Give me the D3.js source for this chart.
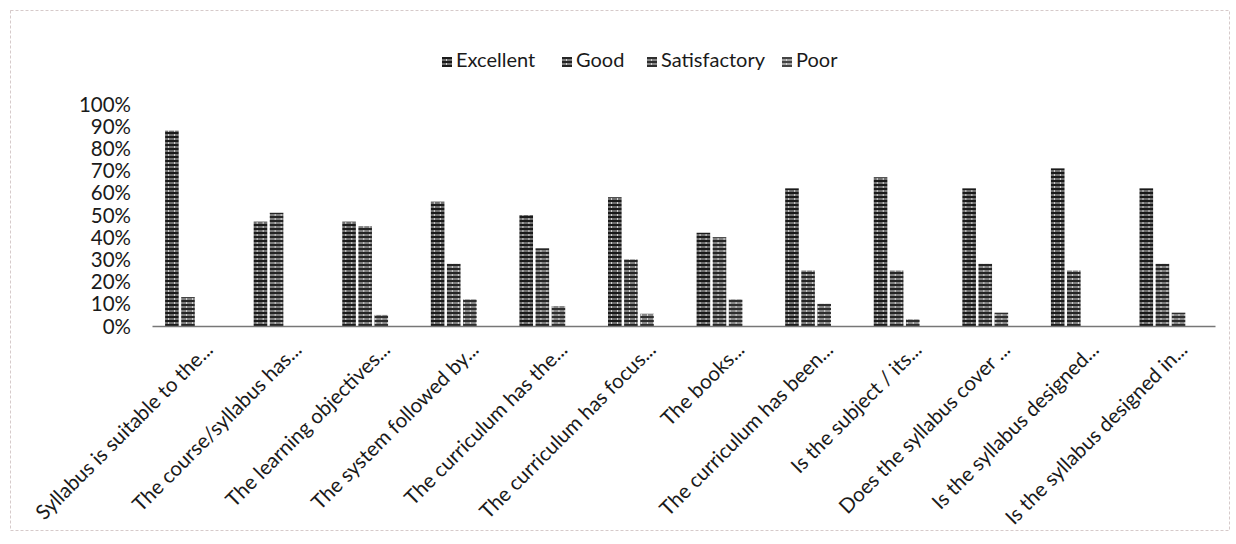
<!DOCTYPE html>
<html>
<head>
<meta charset="utf-8">
<script src="https://cdn.jsdelivr.net/npm/d3@7"></script>
<style>
  html, body { margin: 0; padding: 0; background: #ffffff; }
  svg { display: block; }
  text { font-family: Lato, "Open Sans", sans-serif; fill: #1a1a1a; }
</style>
</head>
<body>
<svg id="chart" width="1236" height="544"></svg>
<script>
const categories = [
  "Syllabus is suitable to the...",
  "The course/syllabus has...",
  "The learning objectives...",
  "The system followed by...",
  "The curriculum has the...",
  "The curriculum has focus...",
  "The books...",
  "The curriculum has been...",
  "Is the subject / its...",
  "Does the syllabus cover ...",
  "Is the syllabus designed...",
  "Is the syllabus designed in..."
];
const seriesNames = ["Excellent", "Good", "Satisfactory", "Poor"];
const excellent    = [88, 47, 47, 56, 50, 58, 42, 62, 67, 62, 71, 62];
const good         = [13, 51, 45, 28, 35, 30, 40, 25, 25, 28, 25, 28];
const satisfactory = [0, 0, 5, 12, 9, 5.5, 12, 10, 3, 6, 0, 6];
const poor         = [0, 0, 0, 0, 0, 0, 0, 0, 0, 0, 0, 0];
const yTicks = [0, 10, 20, 30, 40, 50, 60, 70, 80, 90, 100];

const seriesValues = [excellent, good, satisfactory, poor];

const svg = d3.select("#chart");
const defs = svg.append("defs");

// textured fills imitating the scanned hatching
const pats = [
  {id: "pExc", bg: "#6e6e6e", fg: "#1a1a1a", h: 4, lw: 2},
  {id: "pGood", bg: "#7e7e7e", fg: "#252525", h: 4, lw: 2},
  {id: "pSat", bg: "#868686", fg: "#2e2e2e", h: 4, lw: 2},
  {id: "pPoor", bg: "#a0a0a0", fg: "#444444", h: 4, lw: 2}
];
pats.forEach(p => {
  const pt = defs.append("pattern").attr("id", p.id)
    .attr("patternUnits", "userSpaceOnUse").attr("width", 6).attr("height", p.h);
  pt.append("rect").attr("width", 6).attr("height", p.h).attr("fill", p.bg);
  pt.append("rect").attr("y", 0).attr("width", 6).attr("height", p.lw).attr("fill", p.fg);
  pt.append("rect").attr("x", 4).attr("y", p.lw).attr("width", 1).attr("height", p.h - p.lw).attr("fill", "#d5d5d5");
});

// faint scanned frame
svg.append("rect").attr("x", 10.5).attr("y", 10.5).attr("width", 1219).attr("height", 520)
  .attr("fill", "none").attr("stroke", "#d6caca").attr("stroke-width", 1)
  .attr("stroke-dasharray", "3,2");

const plotLeft = 152, plotRight = 1215, plotTop = 104, plotBottom = 326;

const x0 = d3.scaleBand().domain(categories).range([plotLeft, plotRight])
  .paddingInner(0.273).paddingOuter(0.1365);
const x1 = d3.scaleBand().domain(seriesNames).range([0, x0.bandwidth()]);
const y = d3.scaleLinear().domain([0, 100]).range([plotBottom, plotTop]);

// bars
const groups = svg.append("g").selectAll("g").data(categories).join("g")
  .attr("transform", d => `translate(${x0(d)},0)`);
groups.selectAll("rect")
  .data((d, i) => seriesNames.map((s, j) => ({s, j, v: seriesValues[j][i]})))
  .join("rect")
  .filter(d => d.v > 0)
  .attr("x", d => x1(d.s) + 1)
  .attr("width", x1.bandwidth() - 2.5)
  .attr("y", d => y(d.v))
  .attr("height", d => y(0) - y(d.v))
  .attr("fill", d => `url(#${pats[d.j].id})`);

// y axis labels (no axis line)
const yAxis = d3.axisLeft(y).tickValues(yTicks).tickFormat(d => d + "%").tickSize(0).tickPadding(0);
const gy = svg.append("g").attr("transform", `translate(${plotLeft - 21},0)`).call(yAxis);
gy.select(".domain").remove();
gy.selectAll("text").style("font-size", "20.5px").attr("dy", "0.35em")
  .style("font-family", "Lato, 'Open Sans', sans-serif").attr("fill", "#1a1a1a");

// x axis
const xAxis = d3.axisBottom(x0).tickSize(0).tickPadding(0);
const gx = svg.append("g").attr("transform", `translate(0,${plotBottom})`).call(xAxis);
gx.select(".domain").attr("stroke", "#777").attr("stroke-width", 1.5);
gx.selectAll("text")
  .style("font-size", "20.5px")
  .style("font-family", "Lato, 'Open Sans', sans-serif")
  .attr("fill", "#1a1a1a")
  .attr("text-anchor", "end")
  .attr("dy", 0)
  .attr("y", 0)
  .attr("transform", "translate(18,25) rotate(-45)");

// legend
const legendX = [442, 562, 647, 782];
const legend = svg.append("g").selectAll("g").data(seriesNames).join("g")
  .attr("transform", (d, i) => `translate(${legendX[i]},57)`);
legend.append("rect").attr("width", 10).attr("height", 10)
  .attr("fill", (d, i) => `url(#${pats[i].id})`);
legend.append("text").attr("x", 14).attr("y", 10)
  .style("font-size", "20px").text(d => d);
</script>
</body>
</html>
